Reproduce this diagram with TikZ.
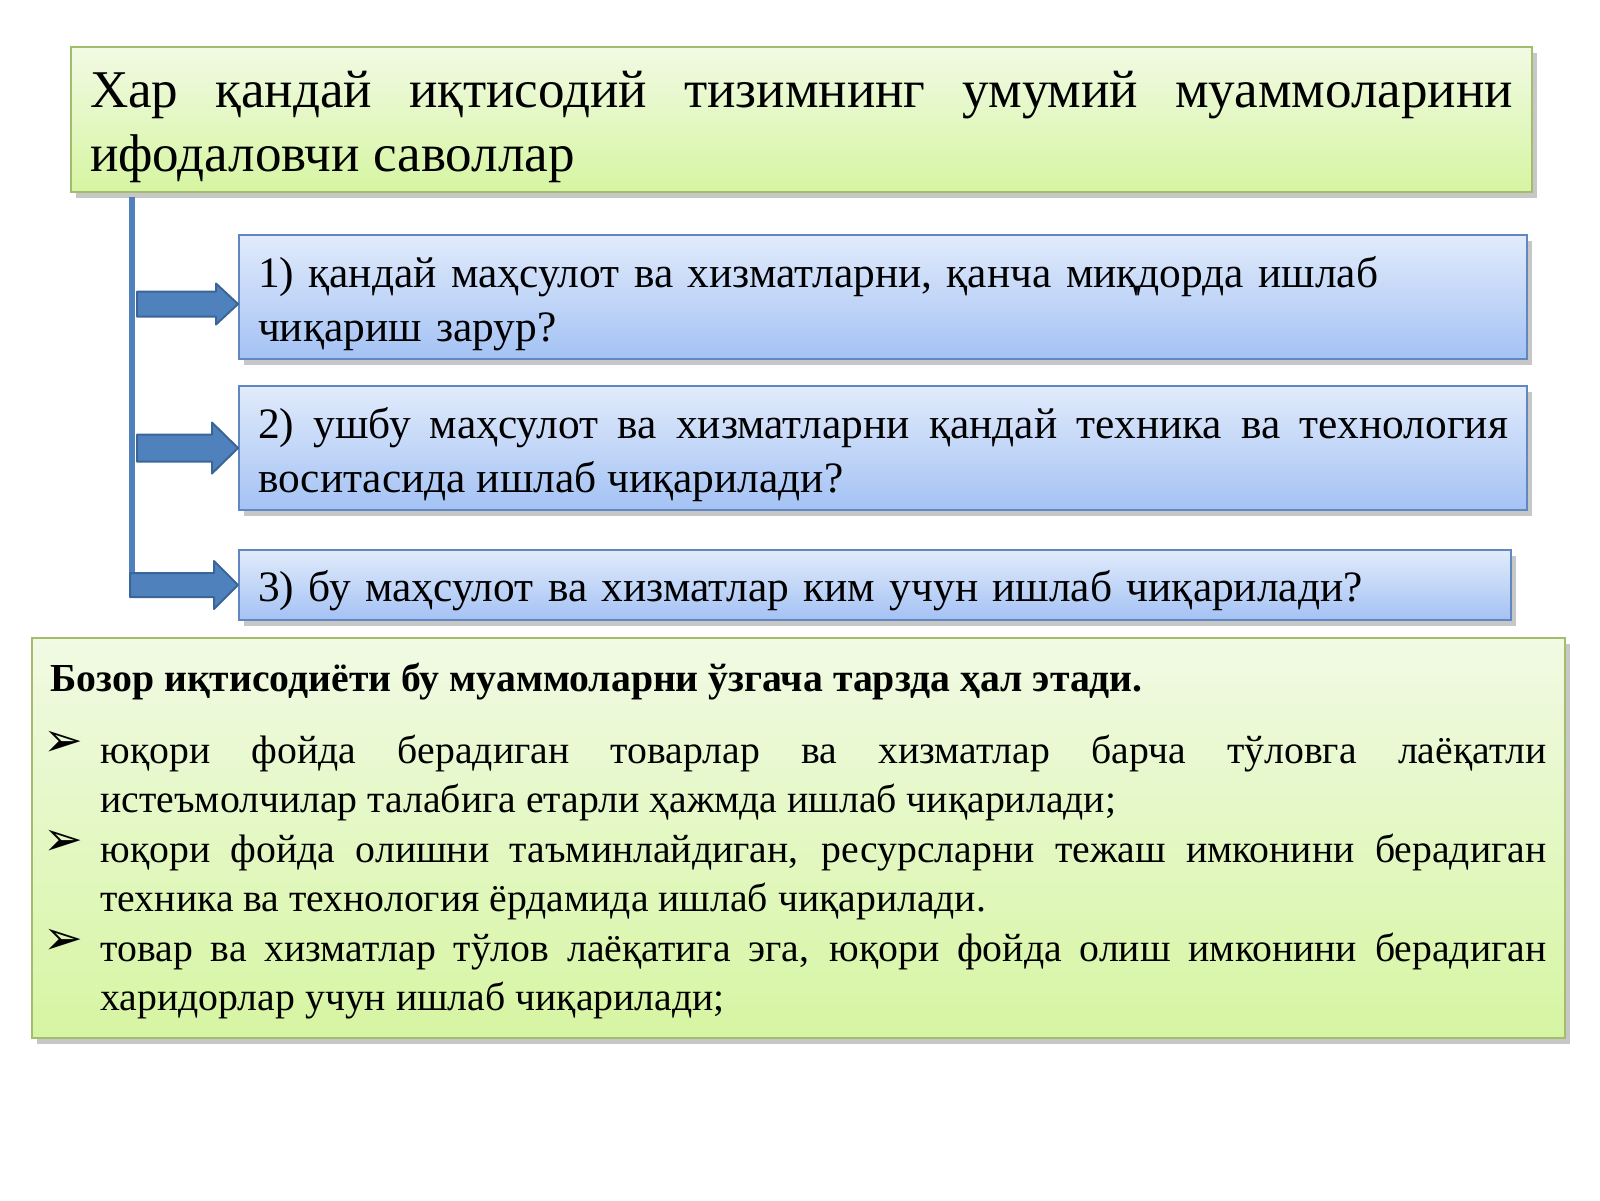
\documentclass[tikz,border=0pt]{standalone}
\usepackage{fontspec}
\setmainfont{Liberation Serif}
\newfontfamily\dingfont{DejaVu Sans}
\usetikzlibrary{shadows,calc}

\definecolor{greentop}{HTML}{F1FAE4}
\definecolor{greenbot}{HTML}{D6F5A2}
\definecolor{greenline}{HTML}{A2BE6C}
\definecolor{bluetop}{HTML}{E1EBFB}
\definecolor{bluebot}{HTML}{A4C2F4}
\definecolor{blueline}{HTML}{6087BF}
\definecolor{arrowfill}{HTML}{4F81BD}
\definecolor{arrowline}{HTML}{3A6598}

\hyphenpenalty=10000
\exhyphenpenalty=10000
\tolerance=10000

\newcommand\bulletmark{\raisebox{0.7mm}{\dingfont\fontsize{13.5pt}{13pt}\selectfont ➢}}

\tikzset{
  softshadow/.style={drop shadow={shadow xshift=0.5mm, shadow yshift=-0.6mm, opacity=0.22, fill=black}},
  greenbox/.style={draw=greenline, line width=0.2mm, top color=greentop, bottom color=greenbot, softshadow, anchor=north west,
    inner ysep=0.5mm},
  bluebox/.style={draw=blueline, line width=0.2mm, top color=bluetop, bottom color=bluebot, softshadow, anchor=north west,
    inner ysep=0.5mm, font=\fontsize{12.35pt}{15.1pt}\selectfont},
  bluearrow/.style={draw=arrowline, fill=arrowfill, line width=0.2mm, line join=round},
  spine/.style={draw=arrowfill, line width=0.6mm}
}

\begin{document}
\begin{tikzpicture}[x=1mm,y=-1mm]
    \useasboundingbox (0,0) rectangle (160,120);

    % Title box
    \node[greenbox, minimum width=146.1mm, minimum height=14.5mm, text width=142.3mm, inner xsep=1.9mm, align=justify,
      text height=4.5mm, text depth=6.83mm, font=\fontsize{15.1pt}{18pt}\selectfont] (title) at (7.0,4.6)
      {Хар қандай иқтисодий тизимнинг умумий муаммоларини\linebreak ифодаловчи саволлар};

    % Questions
    \node[bluebox, minimum width=128.8mm, minimum height=12.4mm, text width=125.0mm, inner xsep=1.9mm, align=left,
      text height=4.0mm, text depth=5.81mm] (q1) at (23.8,23.4)
      {1) қандай маҳсулот ва хизматларни, қанча миқдорда ишлаб\\ чиқариш зарур?};
    \node[bluebox, minimum width=128.8mm, minimum height=12.4mm, text width=125.0mm, inner xsep=1.9mm, align=justify,
      text height=4.0mm, text depth=5.81mm] (q2) at (23.8,38.5)
      {2) ушбу маҳсулот ва хизматларни қандай техника ва технология\linebreak воситасида ишлаб чиқарилади?};
    \node[bluebox, minimum width=127.2mm, minimum height=7.0mm, text width=123.4mm, inner xsep=1.9mm, align=left,
      text height=3.7mm, text depth=0.5mm] (q3) at (23.8,54.9)
      {3) бу маҳсулот ва хизматлар ким учун ишлаб чиқарилади?};

    % Answer box
    \node[greenbox, minimum width=153.3mm, minimum height=40.0mm, text width=149.6mm, inner xsep=1.85mm, align=justify,
      text height=3.1mm, text depth=32.5mm, font=\fontsize{11.3pt}{14.1pt}\selectfont] (answer) at (3.1,63.7)
      {\textbf{Бозор иқтисодиёти бу муаммоларни ўзгача тарзда ҳал этади.}\par\vspace{6.4pt}
       \hangindent=5mm\hangafter=1\noindent\makebox[5mm][l]{\hspace{-0.7mm}\bulletmark}юқори фойда берадиган товарлар ва хизматлар барча тўловга лаёқатли\linebreak истеъмолчилар талабига етарли ҳажмда ишлаб чиқарилади;\par
       \hangindent=5mm\hangafter=1\noindent\makebox[5mm][l]{\hspace{-0.7mm}\bulletmark}юқори фойда олишни таъминлайдиган, ресурсларни тежаш имконини берадиган\linebreak техника ва технология ёрдамида ишлаб чиқарилади.\par
       \hangindent=5mm\hangafter=1\noindent\makebox[5mm][l]{\hspace{-0.7mm}\bulletmark}товар ва хизматлар тўлов лаёқатига эга, юқори фойда олиш имконини берадиган\linebreak харидорлар учун ишлаб чиқарилади;\par};

    % Spine and arrows
    \coordinate (spinetop) at (13.2,19.7);
    \coordinate (spinebot) at (13.2,59.7);
    \draw[spine] (spinetop) -- (spinebot);
    \draw[bluearrow] ($(q1.west)+(0,0.7)$) -- ++(-2.2,-2.05) -- ++(0,0.8) -- ++(-7.9,0) -- ++(0,2.5)
        -- ++(7.9,0) -- ++(0,0.8) -- cycle;
    \draw[bluearrow] (q2.west) -- ++(-2.6,-2.55) -- ++(0,1.2) -- ++(-7.5,0) -- ++(0,2.7)
        -- ++(7.5,0) -- ++(0,1.2) -- cycle;
    \draw[bluearrow] (q3.west) -- ++(-2.4,-2.4) -- ++(0,1.2) -- ++(-8.4,0) -- ++(0,2.4)
        -- ++(8.4,0) -- ++(0,1.2) -- cycle;
\end{tikzpicture}
\end{document}
